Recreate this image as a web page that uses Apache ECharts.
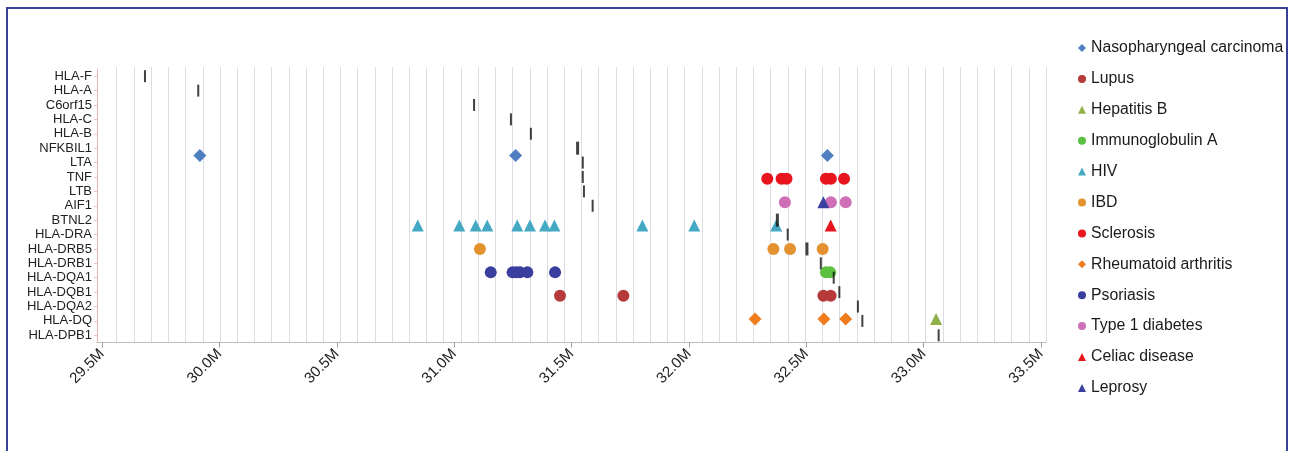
<!DOCTYPE html>
<html>
<head>
<meta charset="utf-8">
<script src="https://cdn.jsdelivr.net/npm/echarts@6/dist/echarts.min.js"></script>
<style>
  html, body { margin: 0; padding: 0; background: #ffffff; }
  #chart { width: 1290px; height: 451px; }
</style>
</head>
<body>
<div id="chart"></div>
<script>
// ---------- DATA ----------
const genes = ['HLA-F','HLA-A','C6orf15','HLA-C','HLA-B','NFKBIL1','LTA','TNF','LTB','AIF1','BTNL2',
  'HLA-DRA','HLA-DRB5','HLA-DRB1','HLA-DQA1','HLA-DQB1','HLA-DQA2','HLA-DQ','HLA-DPB1'];
// gene positions (Mb)
const genePositions = [29.683, 29.910, 31.085, 31.242, 31.327, 31.526, 31.548, 31.548, 31.553, 31.590, 32.377,
  32.421, 32.503, 32.562, 32.617, 32.641, 32.720, 32.739, 33.064];

const xTickValues = [29.5, 30.0, 30.5, 31.0, 31.5, 32.0, 32.5, 33.0, 33.5];
const xTickLabels = ['29.5M','30.0M','30.5M','31.0M','31.5M','32.0M','32.5M','33.0M','33.5M'];

const diseases = ['Nasopharyngeal carcinoma','Lupus','Hepatitis B','Immunoglobulin A','HIV','IBD',
  'Sclerosis','Rheumatoid arthritis','Psoriasis','Type 1 diabetes','Celiac disease','Leprosy'];
// row level of each disease's markers
const diseaseLevels = [8, 2, 1, 3, 5, 4, 7, 1, 3, 6, 5, 6];

const nasopharyngeal = [29.917, 31.262, 32.590];
const lupus          = [31.451, 31.721, 32.573, 32.604];
const hepatitisB     = [33.053];
const immunoglobulinA= [32.584, 32.602];
const hiv            = [30.845, 31.022, 31.092, 31.141, 31.269, 31.323, 31.387, 31.427, 31.802, 32.023, 32.372];
const ibd            = [31.110, 32.360, 32.431, 32.570];
const sclerosis      = [32.334, 32.395, 32.416, 32.584, 32.605, 32.661];
const rheumatoid     = [32.282, 32.575, 32.668];
const psoriasis      = [31.156, 31.249, 31.266, 31.281, 31.312, 31.430];
const type1diabetes  = [32.409, 32.605, 32.668];
const celiac         = [32.604];
const leprosy        = [32.573];

// ---------- STYLE ----------
const diseaseValues = [nasopharyngeal, lupus, hepatitisB, immunoglobulinA, hiv, ibd, sclerosis,
  rheumatoid, psoriasis, type1diabetes, celiac, leprosy];
const diseaseColors = ['#4f7fc0','#b73a3a','#92b04a','#5cc040','#45a9c4','#e3922f','#e8141e',
  '#f07c1e','#3a3f9f','#cf6fb5','#e8141e','#3b3fa0'];
const diseaseSymbols = ['diamond','circle','triangle','circle','triangle','circle','circle',
  'diamond','circle','circle','triangle','triangle'];
const boldGenes = new Set(['NFKBIL1','BTNL2','HLA-DRB5']);

const FONT = '"Liberation Sans", Arial, sans-serif';
const GRID_LEFT = 97, GRID_TOP = 69, GRID_W = 949, GRID_H = 273.5;
const PX_PER_MB = 234.75, FIRST_TICK_PX = 102;
const xMin = xTickValues[0] - (FIRST_TICK_PX - GRID_LEFT) / PX_PER_MB;
const xMax = xTickValues[0] + (GRID_LEFT + GRID_W - FIRST_TICK_PX) / PX_PER_MB;

const chart = echarts.init(document.getElementById('chart'), null, { renderer: 'canvas' });

const series = diseases.map((name, i) => ({
  name: name,
  type: 'scatter',
  xAxisIndex: 0,
  yAxisIndex: 1,
  symbol: diseaseSymbols[i],
  symbolSize: diseaseSymbols[i] === 'diamond' ? 13 : 12,
  itemStyle: { color: diseaseColors[i], opacity: 1 },
  z: 3,
  data: diseaseValues[i].map(v => [v, diseaseLevels[i]])
}));

series.push({
  name: 'genes',
  type: 'scatter',
  xAxisIndex: 0,
  yAxisIndex: 0,
  symbol: 'rect',
  z: 5,
  itemStyle: { color: '#111111' },
  data: genes.map((g, i) => ({
    value: [genePositions[i], g],
    symbolSize: boldGenes.has(g) ? [3, 13] : [2, 12]
  }))
});

chart.setOption({
  animation: false,
  backgroundColor: '#ffffff',
  grid: [
    { left: GRID_LEFT, top: GRID_TOP, width: GRID_W, height: GRID_H },
    { left: 116.7, top: GRID_TOP - 2, width: 929.4, height: GRID_H + 2 }
  ],
  graphic: [{
    type: 'polyline',
    shape: { points: [[7, 451], [7, 8], [1287, 8], [1287, 451]] },
    style: { stroke: '#3a3f98', lineWidth: 2, fill: null },
    z: 100
  }],
  legend: {
    orient: 'vertical',
    left: 1073,
    top: 35,
    itemWidth: 8,
    itemHeight: 8,
    itemGap: 14.9,
    data: diseases.map((d, i) => ({ name: d, icon: diseaseSymbols[i] })),
    textStyle: { fontFamily: FONT, fontSize: 15.8, color: '#1a1a1a', lineHeight: 16 }
  },
  xAxis: [
    {
      type: 'value',
      gridIndex: 0,
      min: xMin,
      max: xMax,
      axisLine: { show: true, lineStyle: { color: '#bdbdbd', width: 1 } },
      axisTick: { show: true, length: 5, lineStyle: { color: '#9a9a9a' }, customValues: xTickValues },
      axisLabel: {
        customValues: xTickValues,
        rotate: 45,
        margin: 9,
        fontFamily: FONT,
        fontSize: 15,
        color: '#222222',
        formatter: v => {
          const idx = xTickValues.findIndex(t => Math.abs(t - v) < 1e-6);
          return idx >= 0 ? xTickLabels[idx] : '';
        }
      },
      splitLine: { show: false }
    },
    {
      type: 'value',
      gridIndex: 1,
      min: 0,
      max: 54,
      interval: 1,
      axisLine: { show: false },
      axisTick: { show: false },
      axisLabel: { show: false },
      splitLine: { show: true, lineStyle: { color: '#dcdce4', width: 1 } }
    }
  ],
  yAxis: [
    {
      type: 'category',
      gridIndex: 0,
      data: genes,
      inverse: true,
      axisLine: { show: true, lineStyle: { color: '#f2b5b5', width: 1 } },
      axisTick: { show: true, length: 3, interval: 0, alignWithLabel: true, lineStyle: { color: '#f2c0c0' } },
      axisLabel: { interval: 0, margin: 5, fontFamily: FONT, fontSize: 13, color: '#222222' },
      splitLine: { show: false }
    },
    {
      type: 'value',
      gridIndex: 0,
      min: 0,
      max: 11.7,
      show: false,
      splitLine: { show: false }
    },
    {
      type: 'value',
      gridIndex: 1,
      min: 0,
      max: 1,
      show: false,
      splitLine: { show: false }
    }
  ],
  series: series
});
</script>
</body>
</html>
